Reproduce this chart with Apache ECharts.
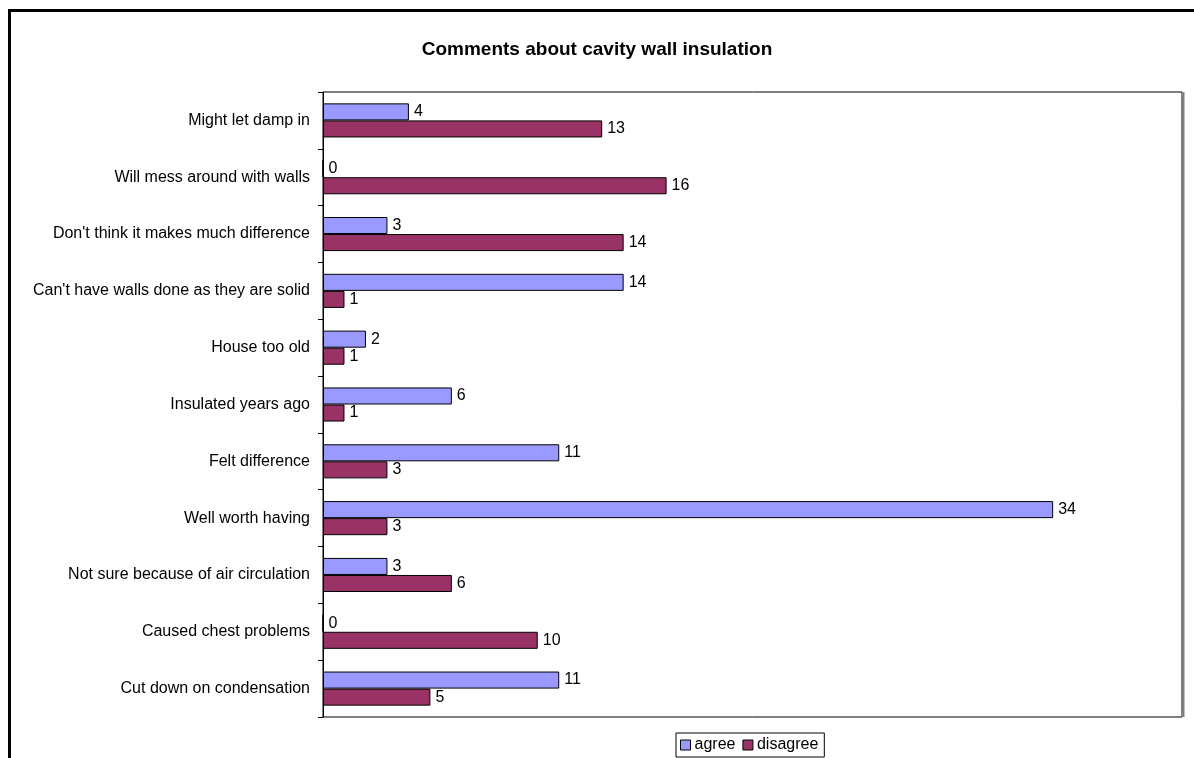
<!DOCTYPE html>
<html>
<head>
<meta charset="utf-8">
<style>
  html, body { margin: 0; padding: 0; background: #fff; }
  #chart { width: 1194px; height: 758px; }
</style>
<script src="https://cdn.jsdelivr.net/npm/echarts@6/dist/echarts.min.js"></script>
</head>
<body>
<div id="chart"></div>
<script>
// Survey comments, listed top to bottom
const categories = [
  "Might let damp in",
  "Will mess around with walls",
  "Don't think it makes much difference",
  "Can't have walls done as they are solid",
  "House too old",
  "Insulated years ago",
  "Felt difference",
  "Well worth having",
  "Not sure because of air circulation",
  "Caused chest problems",
  "Cut down on condensation"
];
const agree    = [4, 0, 3, 14, 2, 6, 11, 34, 3, 0, 11];
const disagree = [13, 16, 14, 1, 1, 1, 3, 3, 6, 10, 5];

const FONT = "Liberation Sans, Arial, sans-serif";
const GRID = { left: 323, top: 92, right: 12, bottom: 41 };

const chart = echarts.init(document.getElementById('chart'), null, { renderer: 'canvas' });

const labelStyle = {
  show: true,
  position: 'right',
  distance: 5,
  color: '#000',
  fontFamily: FONT,
  fontSize: 16
};

chart.setOption({
  animation: false,
  backgroundColor: '#fff',
  title: {
    text: 'Comments about cavity wall insulation',
    left: 'center',
    top: 35,
    textStyle: { fontFamily: FONT, fontSize: 19, fontWeight: 'bold', color: '#000' }
  },
  legend: {
    bottom: 1,
    left: 676,
    itemWidth: 10,
    itemHeight: 10,
    itemGap: 7,
    padding: [4, 6, 4, 4],
    borderColor: '#000',
    borderWidth: 1,
    textStyle: { fontFamily: FONT, fontSize: 16, color: '#000', padding: [0, 0, 0, -1] },
    data: [
      { name: 'agree', icon: 'rect', itemStyle: { borderColor: '#000', borderWidth: 1 } },
      { name: 'disagree', icon: 'rect', itemStyle: { borderColor: '#000', borderWidth: 1 } }
    ]
  },
  grid: {
    left: GRID.left, top: GRID.top, right: GRID.right, bottom: GRID.bottom,
    show: true, borderColor: '#000', borderWidth: 1, backgroundColor: '#fff'
  },
  xAxis: {
    type: 'value',
    min: 0,
    max: 40,
    interval: 5,
    axisLine: { show: false },
    axisTick: { show: false },
    axisLabel: { show: false },
    splitLine: { show: false }
  },
  yAxis: {
    type: 'category',
    inverse: true,
    data: categories,
    axisLine: { show: true, lineStyle: { color: '#000', width: 1 } },
    axisTick: { show: true, length: 5, lineStyle: { color: '#000' } },
    axisLabel: { fontFamily: FONT, fontSize: 16, color: '#000', margin: 13 }
  },
  series: [
    {
      name: 'agree',
      type: 'bar',
      data: agree,
      barGap: '0%',
      barCategoryGap: '40%',
      itemStyle: { color: '#9999FF', borderColor: '#000', borderWidth: 1 },
      label: labelStyle
    },
    {
      name: 'disagree',
      type: 'bar',
      data: disagree,
      barGap: '0%',
      barCategoryGap: '40%',
      itemStyle: { color: '#993366', borderColor: '#000', borderWidth: 1 },
      label: labelStyle
    }
  ],
  graphic: [
    // heavy frame around the chart area
    {
      type: 'rect',
      shape: { x: 9.5, y: 10.5, width: 1400, height: 1000 },
      style: { fill: 'none', stroke: '#000', lineWidth: 3 },
      silent: true
    },
    // grey shadow on the plot area's right edge
    {
      type: 'line',
      shape: { x1: 1183, y1: GRID.top, x2: 1183, y2: 758 - GRID.bottom },
      style: { stroke: '#808080', lineWidth: 3 },
      silent: true
    }
  ]
});
</script>
</body>
</html>
